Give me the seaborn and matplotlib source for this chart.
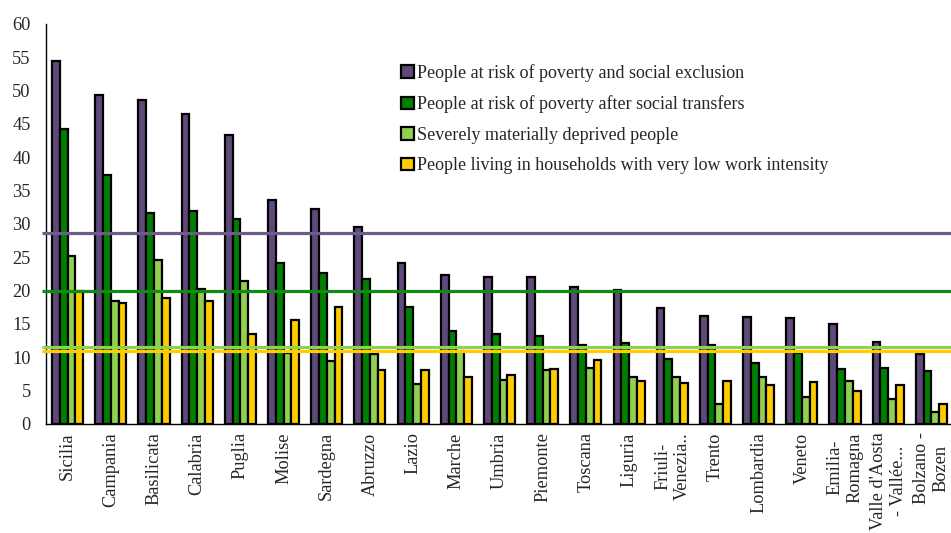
import numpy as np
import pandas as pd
import matplotlib
matplotlib.use("Agg")
import matplotlib.pyplot as plt
import seaborn as sns

regions = ["Sicilia", "Campania", "Basilicata", "Calabria", "Puglia", "Molise",
           "Sardegna", "Abruzzo", "Lazio", "Marche", "Umbria", "Piemonte",
           "Toscana", "Liguria", "Friuli-\nVenezia..", "Trento", "Lombardia",
           "Veneto", "Emilia-\nRomagna", "Valle d'Aosta\n- Vallée...",
           "Bolzano -\nBozen"]

series_names = ["People at risk of poverty and social exclusion",
                "People at risk of poverty after social transfers",
                "Severely materially deprived people",
                "People living in households with very low work intensity"]

risk_exclusion = [54.5, 49.3, 48.6, 46.5, 43.3, 33.6, 32.2, 29.5, 24.2, 22.3, 22.1,
                  22.0, 20.6, 20.1, 17.4, 16.2, 16.1, 15.9, 15.0, 12.3, 10.5]
risk_after_transfers = [44.3, 37.3, 31.6, 32.0, 30.7, 24.1, 22.6, 21.7, 17.6, 14.0, 13.5,
                        13.2, 11.8, 12.2, 9.8, 11.9, 9.2, 10.6, 8.2, 8.4, 7.9]
material_deprivation = [25.2, 18.4, 24.6, 20.2, 21.5, 10.6, 9.4, 10.5, 6.0, 11.0, 6.6,
                        8.1, 8.4, 7.1, 7.0, 3.0, 7.0, 4.0, 6.5, 3.7, 1.8]
low_work_intensity = [19.9, 18.2, 18.9, 18.4, 13.5, 15.6, 17.5, 8.1, 8.1, 7.0, 7.4,
                      8.2, 9.6, 6.5, 6.1, 6.5, 5.8, 6.3, 5.0, 5.9, 3.0]

# national averages drawn as horizontal lines
national_avg = [28.7, 19.9, 11.6, 11.0]

bar_colors = ["#5f497a", "#008000", "#92d050", "#ffcc00"]
line_colors = ["#6e5b8c", "#138a13", "#92d050", "#ffcc00"]

df = pd.DataFrame({
    "region": regions * 4,
    "series": np.repeat(series_names, len(regions)),
    "value": risk_exclusion + risk_after_transfers + material_deprivation + low_work_intensity,
})

sns.set_style("white")
plt.rcParams["font.family"] = ["Liberation Serif", "DejaVu Serif"]

fig = plt.figure(figsize=(9.51, 5.33), dpi=100)
ax = fig.add_axes([46 / 951, 109 / 533, 907 / 951, 400 / 533])

sns.barplot(data=df, x="region", y="value", hue="series", hue_order=series_names,
            palette=bar_colors, width=0.72, gap=0, edgecolor="black", linewidth=1.6,
            saturation=1, ax=ax, zorder=2)

for v, c in zip(national_avg, line_colors):
    ax.plot([-0.6, 20.6], [v, v], color=c, lw=2.3, zorder=3, clip_on=False,
            solid_capstyle="butt")

ax.set_xlim(-0.5, 20.5)
ax.set_ylim(0, 60)
ax.set_yticks(range(0, 61, 5))
ax.set_xlabel("")
ax.set_ylabel("")

ax.set_xticks(np.arange(-0.5, 21, 1))
ax.set_xticklabels([])
ax.set_xticks(range(len(regions)), minor=True)
ax.set_xticklabels(regions, minor=True, rotation=90, va="top", ha="center",
                   multialignment="center", fontsize=13.2)
ax.tick_params(axis="x", which="major", length=5, width=1, color="black", direction="out")
ax.tick_params(axis="x", which="minor", length=0, pad=6)
ax.tick_params(axis="y", length=5, width=1, color="black", direction="out", labelsize=13.2, pad=6)

for side in ["top", "right"]:
    ax.spines[side].set_visible(False)
for side in ["left", "bottom"]:
    ax.spines[side].set_color("black")
    ax.spines[side].set_linewidth(1)

handles, labels = ax.get_legend_handles_labels()
ax.legend(handles, labels, loc="upper left", bbox_to_anchor=(392 / 951, 1 - 55 / 533),
          bbox_transform=fig.transFigure, frameon=False, fontsize=13,
          handlelength=0.7, handleheight=0.7, handletextpad=0.2, labelspacing=0.75,
          borderpad=0)

fig.savefig("out.png", dpi=100)
